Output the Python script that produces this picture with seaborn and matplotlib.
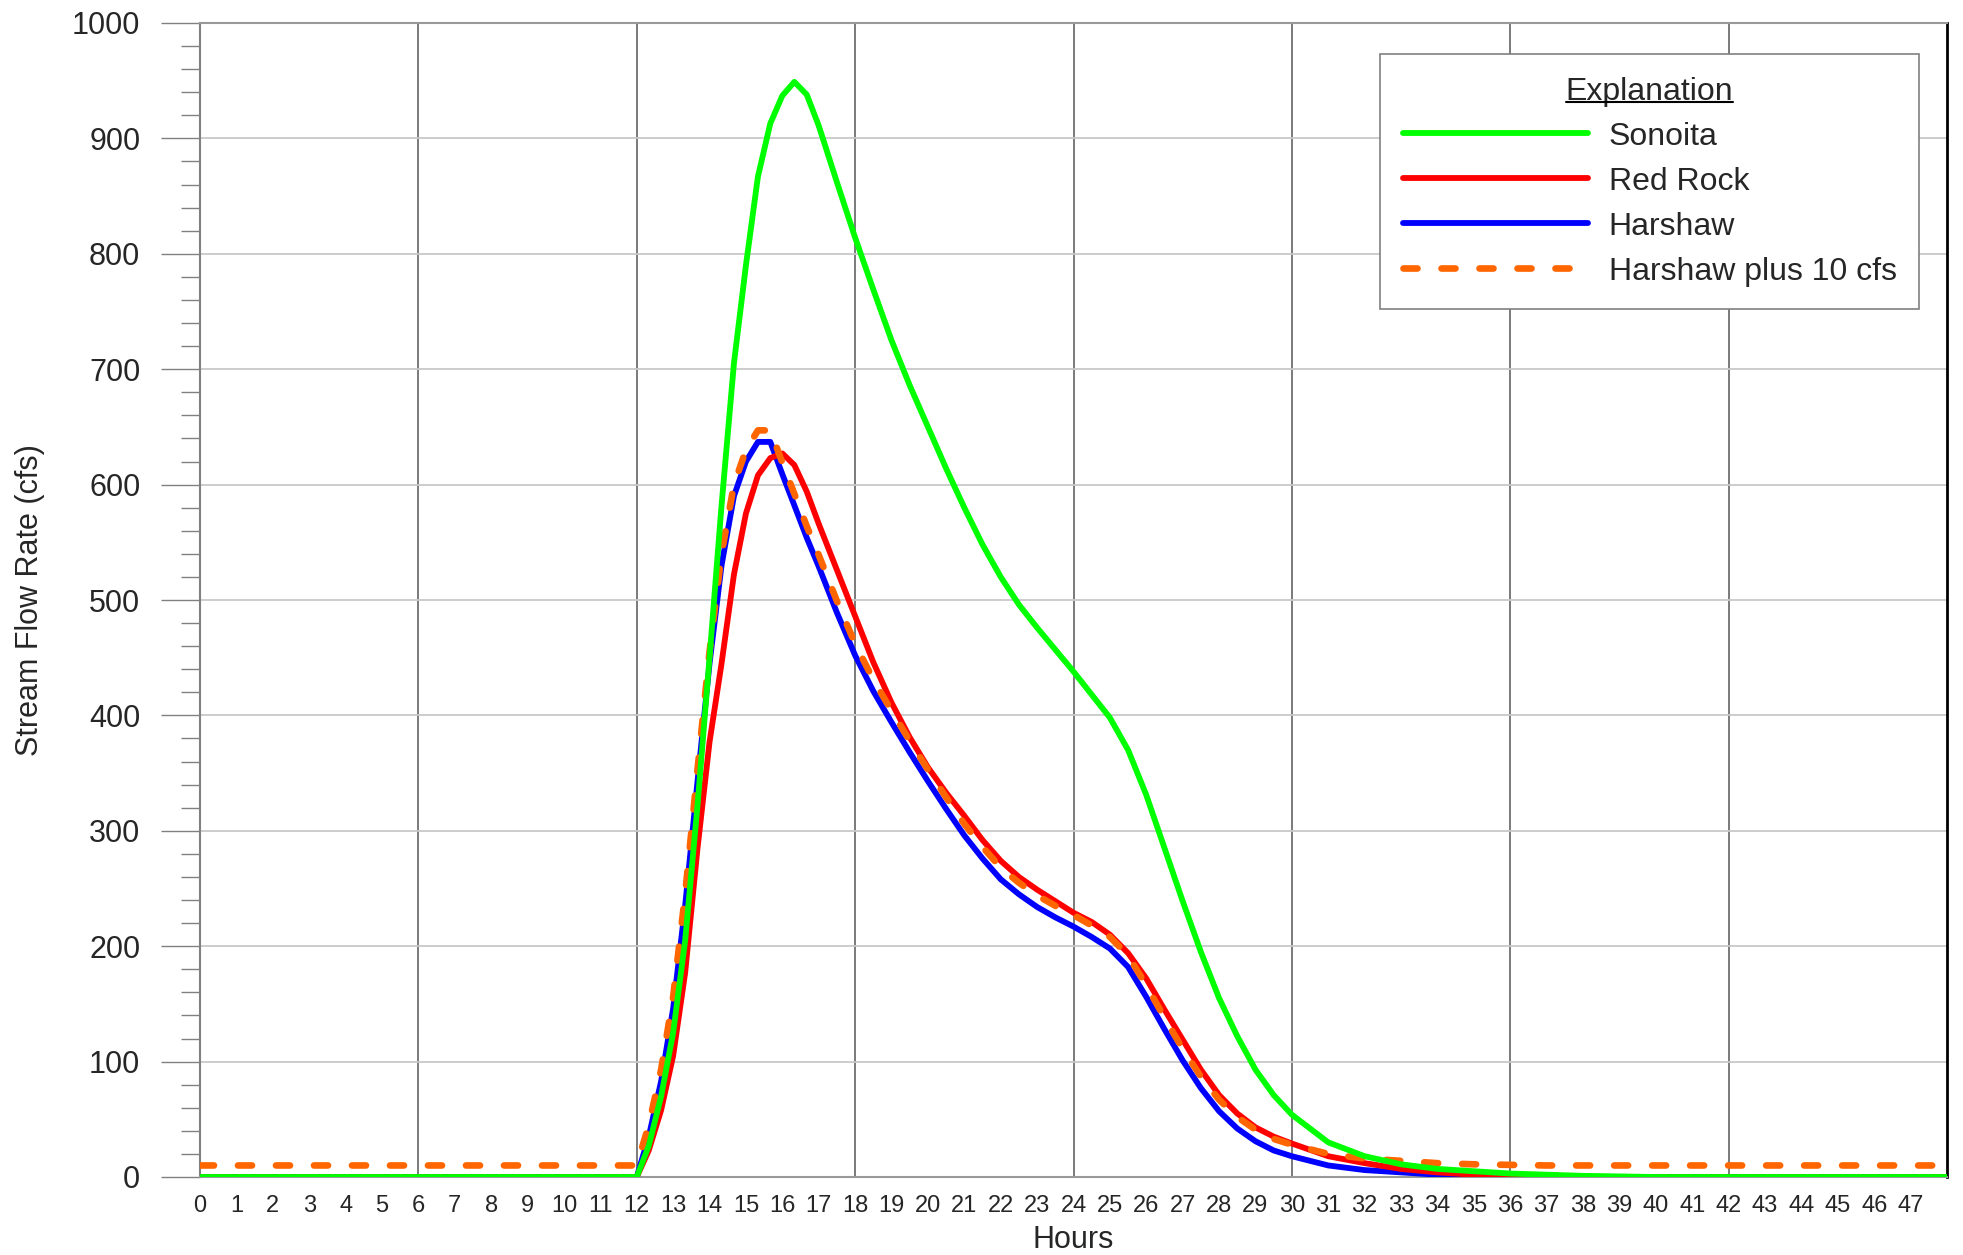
import matplotlib
matplotlib.use("Agg")
import matplotlib.pyplot as plt
import seaborn as sns
import pandas as pd
from matplotlib import font_manager
from matplotlib.ticker import MultipleLocator
from matplotlib.lines import Line2D

sns.set_style("white")
plt.rcParams['font.family'] = ['Liberation Sans', 'DejaVu Sans']

# hydrograph values (cfs)
hours = [0, 12, 12.33, 12.67, 13, 13.33, 13.67, 14, 14.33, 14.67, 15, 15.33, 15.67,
         16, 16.33, 16.67, 17, 17.5, 18, 18.5, 19, 19.5, 20, 20.5, 21, 21.5, 22,
         22.5, 23, 23.5, 24, 24.5, 25, 25.5, 26, 26.5, 27, 27.5, 28, 28.5, 29, 29.5,
         30, 31, 32, 33, 34, 35, 36, 37, 38, 40, 48]
sonoita = [0, 0, 27, 70, 125, 205, 322, 450, 582, 705, 790, 867, 913,
           937, 949, 938, 911, 862, 814, 769, 725, 686, 650, 614, 580, 548, 520,
           496, 476, 457, 438, 418, 398, 370, 331, 285, 239, 195, 155, 122, 93, 71,
           54, 30, 18, 11, 7, 5, 3, 2, 1, 0, 0]
red_rock = [0, 0, 23, 58, 105, 177, 285, 377, 445, 522, 575, 608, 623,
            627, 617, 594, 566, 526, 486, 446, 411, 381, 355, 333, 313, 292, 274,
            260, 249, 239, 229, 221, 210, 194, 172, 145, 119, 93, 71, 55, 43, 35,
            29, 18, 12, 7, 4, 2, 1, 0.5, 0, 0, 0]
harshaw = [0, 0, 35, 83, 146, 235, 343, 445, 530, 590, 620, 637, 637,
           609, 582, 554, 529, 489, 452, 421, 394, 368, 343, 319, 296, 276, 258,
           245, 234, 225, 217, 208, 198, 182, 156, 128, 101, 77, 57, 42, 31, 23,
           18, 10, 6, 4, 2, 1, 0.5, 0, 0, 0, 0]
harshaw_plus10 = [v + 10 for v in harshaw]

df = pd.DataFrame({"Hours": hours, "Sonoita": sonoita, "Red Rock": red_rock,
                   "Harshaw": harshaw, "Harshaw plus 10 cfs": harshaw_plus10})

fig = plt.figure(figsize=(19.63, 12.55), dpi=100)
ax = fig.add_axes([200 / 1963, 1 - 1177 / 1255, 1747 / 1963, 1154 / 1255])

# draw order: blue, red, orange, green on top
sns.lineplot(data=df, x="Hours", y="Harshaw", ax=ax, color="#0000FF", lw=4.2,
             zorder=3, label="Harshaw")
sns.lineplot(data=df, x="Hours", y="Red Rock", ax=ax, color="#FF0000", lw=4.2,
             zorder=4, label="Red Rock")
sns.lineplot(data=df, x="Hours", y="Harshaw plus 10 cfs", ax=ax, color="#FF6600",
             lw=4.8, zorder=5, label="Harshaw plus 10 cfs")
sns.lineplot(data=df, x="Hours", y="Sonoita", ax=ax, color="#00FF00", lw=4.2,
             zorder=6, label="Sonoita")
orange = ax.get_lines()[2]
orange.set_dashes((2.1, 3.6))
orange.set_dash_capstyle("round")
for ln in ax.get_lines():
    ln.set_solid_capstyle("round")
    ln.set_solid_joinstyle("round")

ax.set_xlim(0, 48)
ax.set_ylim(0, 1000)

# y axis: majors every 100, minors every 20, ticks outward
ax.yaxis.set_major_locator(MultipleLocator(100))
ax.yaxis.set_minor_locator(MultipleLocator(20))
ax.tick_params(axis="y", which="major", direction="out", length=28, width=1,
               color="#808080", labelsize=22, pad=15, left=True)
ax.tick_params(axis="y", which="minor", direction="out", length=14, width=1,
               color="#808080", left=True)

# x axis: grid every 6 h, a label every hour, no tick marks
try:
    font_manager.findfont("Liberation Sans Narrow", fallback_to_default=False)
    xfam, xsize = ["Liberation Sans Narrow", "Liberation Sans"], 19
except ValueError:
    xfam, xsize = ["Liberation Sans", "DejaVu Sans"], 17
ax.set_xticks(range(0, 48, 6))
ax.set_xticks([h for h in range(48) if h % 6], minor=True)
ax.set_xticklabels([str(h) for h in range(0, 48, 6)])
ax.set_xticklabels([str(h) for h in range(48) if h % 6], minor=True)
ax.tick_params(axis="x", which="both", length=0, labelsize=xsize, pad=13)
for lab in ax.get_xticklabels(which="both"):
    lab.set_family(xfam)

ax.grid(axis="y", which="major", color="#C8C8C8", lw=1.3, zorder=0)
ax.grid(axis="x", which="major", color="#7A7A7A", lw=1.4, zorder=0)
ax.set_axisbelow(True)

for side in ["left", "bottom", "top"]:
    ax.spines[side].set_color("#999999")
    ax.spines[side].set_linewidth(1.5)
ax.spines["left"].set_color("#808080")
ax.spines["right"].set_color("black")
ax.spines["right"].set_linewidth(2)

ax.set_xlabel("Hours", fontsize=22)
ax.set_ylabel("Stream Flow Rate (cfs)", fontsize=22)
ax.xaxis.set_label_coords(0.5, -0.042)
ax.yaxis.set_label_coords(-0.0885, 0.5)

handles, labels = ax.get_legend_handles_labels()
order = [3, 1, 0, 2]
leg = ax.legend([handles[i] for i in order], [labels[i] for i in order],
                title="Explanation", loc="upper right",
                bbox_to_anchor=(0.984, 0.973), borderaxespad=0, fontsize=23,
                title_fontsize=23, frameon=True, fancybox=False, shadow=False,
                handlelength=5.8, handletextpad=0.65, labelspacing=0.47,
                borderpad=0.7, edgecolor="#808080", framealpha=1)
leg.get_frame().set_linewidth(1.2)
leg.set_zorder(10)

# underline the legend title
fig.canvas.draw()
bb = leg.get_title().get_window_extent(fig.canvas.get_renderer())
bb = bb.transformed(fig.transFigure.inverted())
yline = bb.y0 + 0.14 * (bb.y1 - bb.y0)
fig.add_artist(Line2D([bb.x0, bb.x1], [yline, yline], color="black", lw=1.5,
                      transform=fig.transFigure, zorder=11))

fig.savefig("out.png", dpi=100)
